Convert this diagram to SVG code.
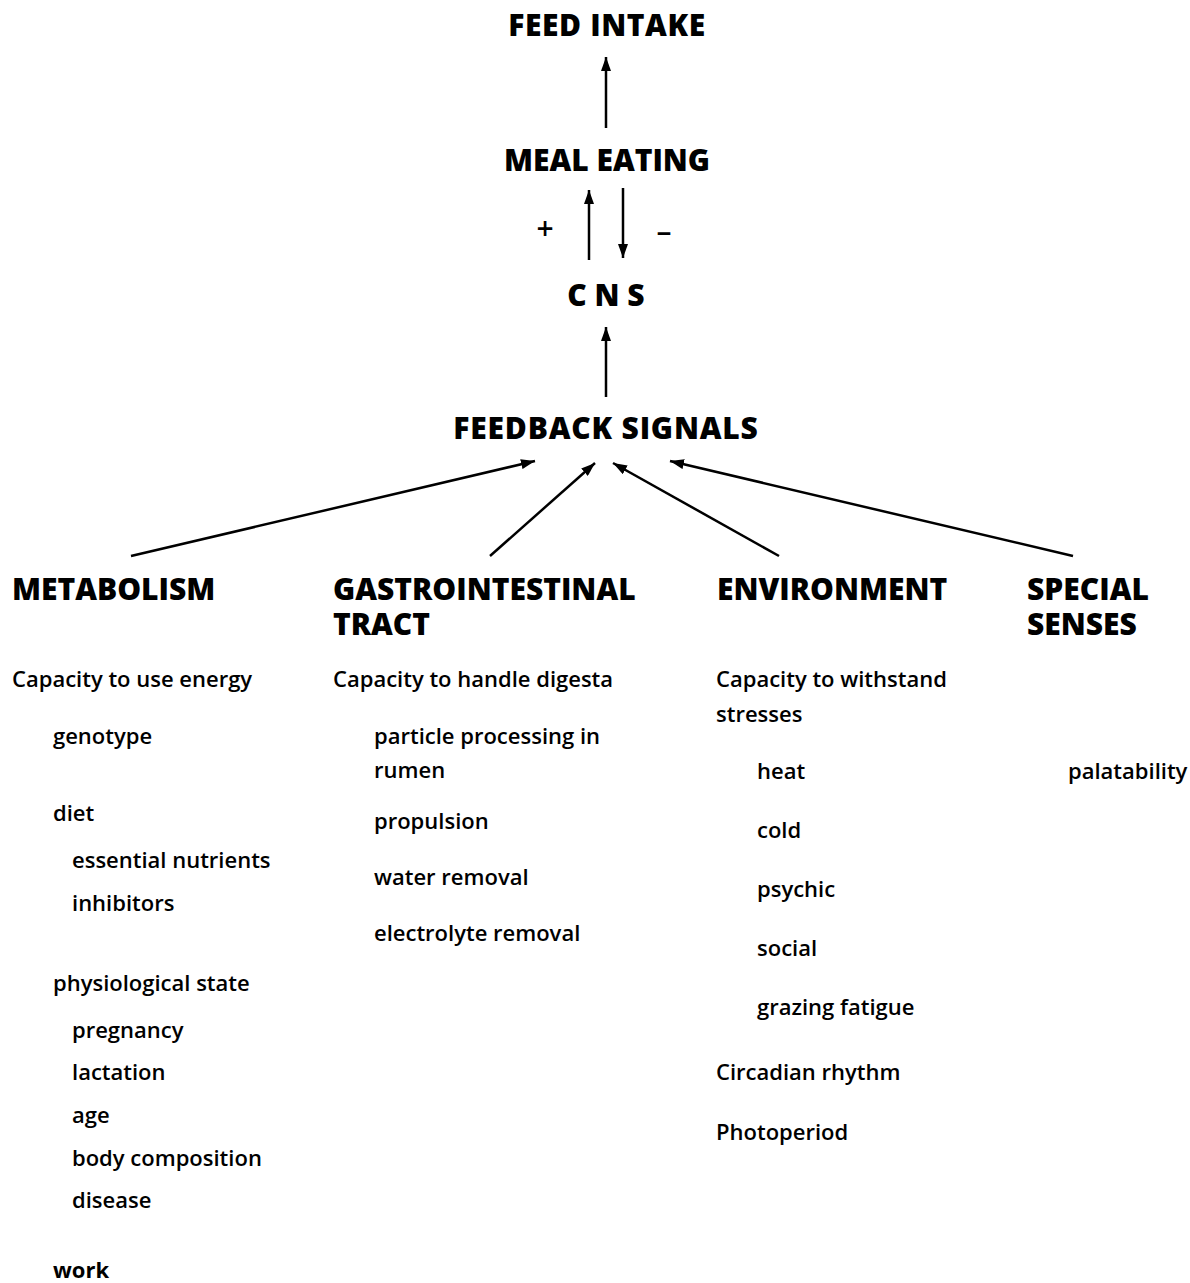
<svg xmlns="http://www.w3.org/2000/svg" width="1190" height="1283" viewBox="0 0 1190 1283">
<style>
.h{font-family:"Open Sans","Liberation Sans",sans-serif;font-weight:800;font-size:30px;fill:#000}
.t{font-family:"Open Sans","Liberation Sans",sans-serif;font-weight:600;font-size:22px;fill:#000}
.c{text-anchor:middle}
.ln{stroke:#000;stroke-width:2.5;fill:none}
</style>
<defs>
<marker id="ah" viewBox="0 0 14 10" refX="14" refY="5" markerWidth="14" markerHeight="10" markerUnits="userSpaceOnUse" orient="auto">
<path d="M0,0 L14,5 L0,10 z" fill="#000"/>
</marker>
</defs>
<g id="feed-intake"><text class="h c" x="607" y="36" style="letter-spacing:0.6px">FEED INTAKE</text></g>
<g id="meal-eating"><text class="h c" x="607" y="171">MEAL EATING</text></g>
<g id="cns"><text class="h c" x="606" y="306">C N S</text></g>
<g id="feedback-signals"><text class="h c" x="606" y="439" style="letter-spacing:0.8px">FEEDBACK SIGNALS</text></g>
<g id="signs"><text class="t c" x="545" y="239" style="font-size:30px">+</text><text class="t c" x="664" y="242" style="font-size:30px">–</text></g>
<g id="connectors">
<line class="ln" x1="606" y1="128" x2="606" y2="57" marker-end="url(#ah)"/>
<line class="ln" x1="589" y1="260" x2="589" y2="190" marker-end="url(#ah)"/>
<line class="ln" x1="623" y1="188" x2="623" y2="258" marker-end="url(#ah)"/>
<line class="ln" x1="606" y1="397" x2="606" y2="327" marker-end="url(#ah)"/>
<line class="ln" x1="131" y1="556" x2="535" y2="461" marker-end="url(#ah)"/>
<line class="ln" x1="490" y1="556" x2="595" y2="463" marker-end="url(#ah)"/>
<line class="ln" x1="779" y1="556" x2="613" y2="463" marker-end="url(#ah)"/>
<line class="ln" x1="1073" y1="556" x2="670" y2="461" marker-end="url(#ah)"/>
</g>
<g id="metabolism">
<text class="h" x="12" y="600">METABOLISM</text>
<text class="t" x="12" y="687">Capacity to use energy</text>
<text class="t" x="53" y="744">genotype</text>
<text class="t" x="53" y="821">diet</text>
<text class="t" x="72" y="868">essential nutrients</text>
<text class="t" x="72" y="911">inhibitors</text>
<text class="t" x="53" y="991">physiological state</text>
<text class="t" x="72" y="1038">pregnancy</text>
<text class="t" x="72" y="1080">lactation</text>
<text class="t" x="72" y="1123">age</text>
<text class="t" x="72" y="1166">body composition</text>
<text class="t" x="72" y="1208">disease</text>
<text class="t" x="53" y="1278" style="font-weight:700">work</text>
</g>
<g id="gastrointestinal-tract">
<text class="h" x="333" y="600">GASTROINTESTINAL</text>
<text class="h" x="333" y="635">TRACT</text>
<text class="t" x="333" y="687">Capacity to handle digesta</text>
<text class="t" x="374" y="744">particle processing in</text>
<text class="t" x="374" y="778">rumen</text>
<text class="t" x="374" y="829">propulsion</text>
<text class="t" x="374" y="885">water removal</text>
<text class="t" x="374" y="941">electrolyte removal</text>
</g>
<g id="environment">
<text class="h" x="717" y="600">ENVIRONMENT</text>
<text class="t" x="716" y="687">Capacity to withstand</text>
<text class="t" x="716" y="722">stresses</text>
<text class="t" x="757" y="779">heat</text>
<text class="t" x="757" y="838">cold</text>
<text class="t" x="757" y="897">psychic</text>
<text class="t" x="757" y="956">social</text>
<text class="t" x="757" y="1015">grazing fatigue</text>
<text class="t" x="716" y="1080">Circadian rhythm</text>
<text class="t" x="716" y="1140">Photoperiod</text>
</g>
<g id="special-senses">
<text class="h" x="1027" y="600">SPECIAL</text>
<text class="h" x="1027" y="635">SENSES</text>
<text class="t" x="1068" y="779">palatability</text>
</g>
</svg>
